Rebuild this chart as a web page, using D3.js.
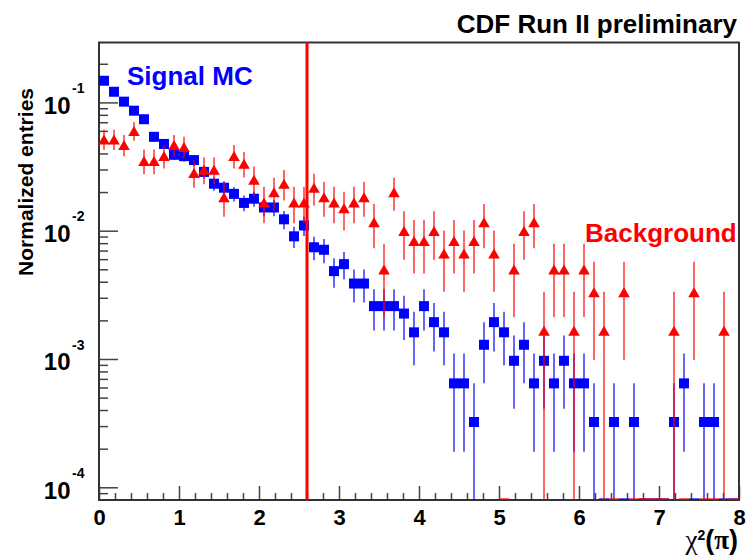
<!DOCTYPE html>
<html>
<head>
<meta charset="utf-8">
<script src="https://cdn.jsdelivr.net/npm/d3@7"></script>
<style>
  body { margin: 0; background: #fff; }
  svg text { font-family: "Liberation Sans", Arial, Helvetica, sans-serif; font-weight: bold; }
</style>
</head>
<body>
<div id="chart"></div>
<script>
// histogram binning of chi2(pi)
const xMin = 0, xMax = 8, binWidth = 0.125;
const yMin = 7.96e-5, yMax = 0.293;

// entries per bin (each histogram is normalized to unit area)
const signalCounts = [
  457, 375, 314, 267, 229, 167, 147, 121, 118, 110,
  89, 72, 67, 60, 51, 55, 47, 47, 38, 28,
  34, 23, 22, 15, 17, 12, 12, 8, 8, 8,
  7, 5, 8, 6, 5, 2, 2, 1, 4, 6,
  5, 3, 4, 2, 3, 2, 3, 2, 2, 1,
  0, 1, 0, 1, 0, 0, 0, 1, 2, 0,
  1, 1, 0, 0
];
const backgroundCounts = [
  31, 31, 28, 36, 21, 21, 23, 28, 27, 17,
  18, 18, 11, 23, 20, 15, 10, 12, 14, 10,
  10, 13, 11, 10, 9, 10, 11, 7, 3, 12,
  6, 5, 5, 6, 4, 5, 4, 5, 7, 4,
  0, 3, 6, 7, 1, 3, 3, 1, 3, 2,
  1, 0, 2, 0, 0, 0, 0, 1, 0, 2,
  0, 0, 1, 0
];

const cutValue = 2.6;
const xTickValues = [0, 1, 2, 3, 4, 5, 6, 7, 8];
const yDecades = [1e-4, 1e-3, 1e-2, 1e-1];
const yDecadeExponents = ['-4', '-3', '-2', '-1'];

const width = 747, height = 557;
const frame = { left: 99, right: 739, top: 42.5, bottom: 500 };

const svg = d3.select('#chart').append('svg')
  .attr('width', width).attr('height', height);

const x = d3.scaleLinear().domain([xMin, xMax]).range([frame.left, frame.right]);
const y = d3.scaleLog().domain([yMin, yMax]).range([frame.bottom, frame.top]);

function toPoints(counts) {
  const total = d3.sum(counts);
  return counts.map((n, i) => ({
    x0: xMin + i * binWidth,
    x1: xMin + (i + 1) * binWidth,
    xc: xMin + (i + 0.5) * binWidth,
    n,
    v: n / total,
    err: Math.sqrt(n) / total
  }));
}

const signal = toPoints(signalCounts);
const background = toPoints(backgroundCounts);

// axes (ROOT style: ticks point into the frame)
const minorX = d3.range(0, 8.001, 0.2).filter(d => Math.abs(d - Math.round(d)) > 1e-6);
const xAxisG = svg.append('g').attr('transform', `translate(0,${frame.bottom})`);
xAxisG.append('g')
  .call(d3.axisBottom(x).tickValues(minorX).tickSize(-7).tickSizeOuter(0).tickFormat(''))
  .call(g => g.select('.domain').remove());
xAxisG.append('g')
  .call(d3.axisBottom(x).tickValues(xTickValues).tickSize(-14).tickSizeOuter(0).tickFormat(d3.format('d')))
  .call(g => g.select('.domain').remove())
  .call(g => g.selectAll('text').attr('y', 25).attr('dy', 0)
    .attr('fill', '#000').style('font-size', '22px'));

const minorY = [];
for (let e = -5; e <= 0; e++) {
  for (let k = 2; k <= 9; k++) {
    const v = k * Math.pow(10, e);
    if (v >= yMin && v <= yMax) minorY.push(v);
  }
}
const yAxisG = svg.append('g').attr('transform', `translate(${frame.left},0)`);
yAxisG.append('g')
  .call(d3.axisLeft(y).tickValues(minorY).tickSize(-9).tickSizeOuter(0).tickFormat(''))
  .call(g => g.select('.domain').remove());
yAxisG.append('g')
  .call(d3.axisLeft(y).tickValues(yDecades).tickSize(-19).tickSizeOuter(0).tickFormat(''))
  .call(g => g.select('.domain').remove());

svg.selectAll('.tick line').attr('stroke', '#444').attr('stroke-width', 1.5);

const yLabels = svg.append('g').selectAll('g.ylab')
  .data(yDecades)
  .join('g').attr('class', 'ylab');
yLabels.append('text')
  .attr('x', 70.5).attr('y', d => y(d) + 11.5)
  .attr('text-anchor', 'end').style('font-size', '24px')
  .text('10');
yLabels.append('text')
  .attr('x', 72).attr('y', d => y(d) - 9.2)
  .style('font-size', '14px')
  .text((d, i) => yDecadeExponents[i]);

// frame
svg.append('rect')
  .attr('x', frame.left).attr('y', frame.top)
  .attr('width', frame.right - frame.left).attr('height', frame.bottom - frame.top)
  .attr('fill', 'none').attr('stroke', '#333').attr('stroke-width', 2);

const plot = svg.append('g');

function drawSeries(points, color, marker) {
  const g = plot.append('g');
  const filled = points.filter(d => d.n > 0);
  const empty = points.filter(d => d.n === 0);

  g.selectAll('line.err').data(filled).join('line')
    .attr('class', 'err')
    .attr('x1', d => x(d.xc)).attr('x2', d => x(d.xc))
    .attr('y1', d => d.v - d.err > yMin ? y(d.v - d.err) : frame.bottom)
    .attr('y2', d => y(Math.min(d.v + d.err, yMax)))
    .attr('stroke', color).attr('stroke-width', 2).attr('stroke-opacity', 0.6);

  g.selectAll('line.zero').data(empty).join('line')
    .attr('class', 'zero')
    .attr('x1', d => x(d.x0)).attr('x2', d => x(d.x1))
    .attr('y1', frame.bottom - 1).attr('y2', frame.bottom - 1)
    .attr('stroke', color).attr('stroke-width', 2).attr('stroke-opacity', 0.6);

  if (marker === 'square') {
    g.selectAll('rect.mk').data(filled).join('rect')
      .attr('class', 'mk')
      .attr('x', d => x(d.xc) - 5).attr('y', d => y(d.v) - 5)
      .attr('width', 10).attr('height', 10)
      .attr('fill', color);
  } else {
    g.selectAll('path.mk').data(filled).join('path')
      .attr('class', 'mk')
      .attr('transform', d => `translate(${x(d.xc)},${y(d.v)})`)
      .attr('d', 'M0,-4.5L5.8,5.5L-5.8,5.5Z')
      .attr('fill', color);
  }
}

drawSeries(signal, '#0000ff', 'square');
drawSeries(background, '#ff0000', 'triangle');

// cut line
plot.append('line')
  .attr('x1', x(cutValue)).attr('x2', x(cutValue))
  .attr('y1', frame.top).attr('y2', frame.bottom)
  .attr('stroke', '#ff0000').attr('stroke-width', 3);

// texts
svg.append('text')
  .attr('x', 737).attr('y', 33).attr('text-anchor', 'end')
  .style('font-size', '26px').attr('fill', '#000')
  .text('CDF Run II preliminary');

svg.append('text')
  .attr('x', 127).attr('y', 85)
  .style('font-size', '26px').attr('fill', '#0000ff')
  .text('Signal MC');

svg.append('text')
  .attr('x', 585).attr('y', 242)
  .style('font-size', '26px').attr('fill', '#ff0000')
  .text('Background');

svg.append('text')
  .attr('transform', 'translate(33,88) rotate(-90)')
  .attr('text-anchor', 'end')
  .style('font-size', '21px')
  .text('Normalized entries');

const xl = svg.append('text')
  .attr('x', 738).attr('y', 549).attr('text-anchor', 'end')
  .style('font-size', '27px');
xl.append('tspan').style('font-family', '"Liberation Serif", serif').style('font-weight', 'normal').text('χ');
xl.append('tspan').attr('dy', -9.5).style('font-size', '14px').text('2');
xl.append('tspan').attr('dy', 9.5).text('(');
xl.append('tspan').style('font-family', '"Liberation Serif", serif').text('π');
xl.append('tspan').text(')');
</script>
</body>
</html>
